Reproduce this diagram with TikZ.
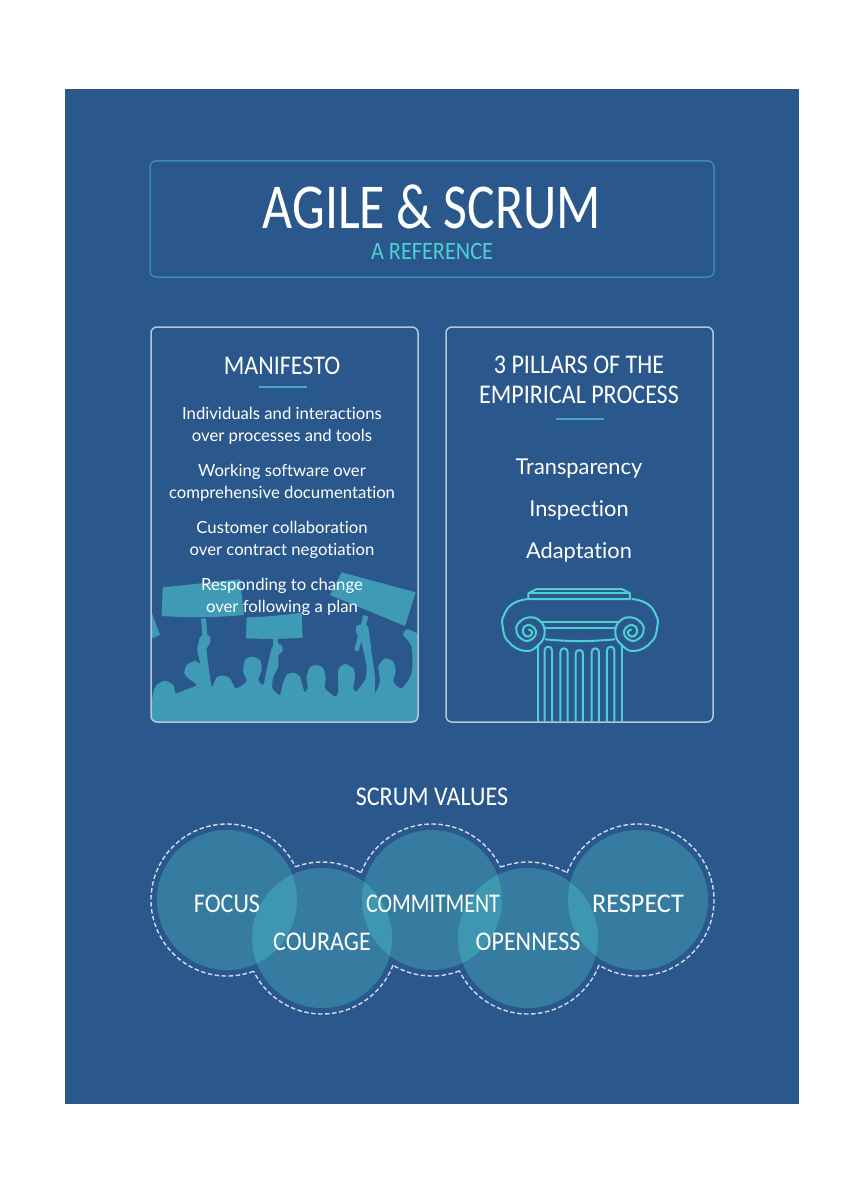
\documentclass[tikz,border=0pt]{standalone}
\usepackage{fontspec}
\setmainfont[Ligatures=NoCommon]{Lato}
\newfontfamily\headfont[FakeStretch=0.89]{Carlito}
\newfontfamily\titlefont[FakeStretch=0.81]{Carlito}
\newfontfamily\widefont[FakeStretch=0.97]{Carlito}
\usetikzlibrary{positioning}
\definecolor{pagebg}{HTML}{2B588C}
\definecolor{teal}{HTML}{3F9BB5}
\definecolor{aqua}{HTML}{4DD0CF}
\definecolor{boxline}{HTML}{B4C6DA}
\definecolor{titleline}{HTML}{3A8FAB}
\definecolor{bubble}{HTML}{5AF0E6}
\newcommand{\volute}{plot[smooth,tension=.8] coordinates {(-155,72) (-200,85) (-228,120) (-232,155) (-215,200) (-165,228) (-125,210) (-106,175) (-118,140) (-152,127) (-185,145) (-190,172) (-175,192) (-152,197) (-132,175) (-145,152) (-167,155) (-170,175) (-155,185) (-143,172) (-155,163)}}
\begin{document}
\begin{tikzpicture}[x=1pt,y=-1pt,
        panel/.style={draw=boxline,line width=1.5pt,rounded corners=6pt},
        head/.style={anchor=base,inner sep=0pt,text=white,font=\headfont\fontsize{27}{27}\selectfont},
        body/.style={anchor=base,inner sep=0pt,text=white,font=\fontsize{16.7}{16.7}\selectfont},
        pillar/.style={anchor=base,inner sep=0pt,text=white,font=\fontsize{21.8}{21.8}\selectfont},
        rulebar/.style={draw=teal!70!aqua,line width=1.2pt},
        aqualine/.style={draw=aqua,line width=2pt},
        bubblefill/.style={fill=bubble,fill opacity=.24},
        dashring/.style={draw=boxline!60!white,line width=1.4pt,dash pattern=on 4.5pt off 2.5pt}]
        \useasboundingbox (0,0) rectangle (863,1193);
        \fill[white] (0,0) rectangle (863,1193);
        \fill[pagebg] (65,89) rectangle (799,1104);

        \draw[panel,draw=titleline] (150,161) rectangle (714,277);
        \node[head,text height=41pt,text depth=0pt,font=\titlefont\fontsize{64}{64}\selectfont] (title) at (432,228) {AGILE \& SCRUM};
        \node[head,text height=17pt,text depth=0pt,text=aqua,font=\headfont\fontsize{25}{25}\selectfont] (subtitle) at (432,259) {A REFERENCE};

        \begin{scope}
        \clip[rounded corners=6pt] (151,327) rectangle (418,722);
        \begin{scope}[shift={(145,560)},x=.3333pt,y=-.3333pt]
        \fill[teal] (15,145) -- (45,225) -- (15,237) -- cycle;
        \fill[teal] (53,82) -- (285,58) -- (297,165) to[bend left=4] (50,168) -- cycle;
        \fill[teal] (168,175) -- (183,175) -- (187,225) -- (172,225) -- cycle;
        \fill[teal] (305,172) to[bend right=3] (470,158) -- (473,233) to[bend left=3] (303,235) -- cycle;
        \fill[teal] (385,238) -- (398,238) -- (398,258) -- (385,258) -- cycle;
        \fill[teal] (590,37) -- (812,97) -- (780,198) -- (555,105) -- cycle;
        \fill[teal] (655,165) -- (670,170) -- (640,275) -- (628,270) -- cycle;
        \fill[teal] (0,430) rectangle (830,495);
        \fill[teal] plot[smooth,tension=.4] coordinates {(10,440) (20,425) (25,395) (35,375) (60,362) (85,375) (92,400) (125,388) (155,375)
                (130,355) (118,340) (125,315) (150,303) (165,310) (157,270) (165,232) (180,222) (195,230) (195,250)
                (185,265) (188,300) (200,380) (215,352) (235,347) (255,355) (272,385) (300,370) (305,360) (295,335)
                (300,300) (320,290) (345,300) (350,330) (340,360) (355,375) (365,330) (380,265) (395,250) (412,258)
                (412,275) (400,285) (400,320) (385,350) (382,385) (405,405) (412,375) (425,345) (445,338) (465,350)
                (478,395) (488,385) (485,350) (495,322) (515,315) (535,325) (542,355) (540,385) (570,410) (580,395)
                (580,330) (600,312) (625,325) (630,350) (625,385) (633,395) (660,360) (665,320) (650,250) (635,220)
                (635,197) (665,195) (672,215) (680,280) (690,350) (690,400) (705,365) (700,320) (720,295) (745,305)
                (752,335) (745,365) (770,385) (800,340) (800,260) (775,225) (785,208) (805,215) (820,235) (830,440)} -- cycle;
        \end{scope}
        \end{scope}

        \draw[panel] (151,327) rectangle (418,722);
        \draw[panel] (446,327) rectangle (713,722);

        \node[head] (manifesto) at (282,374) {MANIFESTO};
        \draw[rulebar] (259,387) -- (307,387);
        \node[body] (m1) at (282,419) {Individuals and interactions};
        \node[body] (m2) at (282,441) {over processes and tools};
        \node[body] (m3) at (282,476) {Working software over};
        \node[body] (m4) at (282,498) {comprehensive documentation};
        \node[body] (m5) at (282,533) {Customer collaboration};
        \node[body] (m6) at (282,555) {over contract negotiation};
        \node[body] (m7) at (282,590) {Responding to change};
        \node[body] (m8) at (282,612) {over following a plan};

        \node[head] (p1) at (579,373) {3 PILLARS OF THE};
        \node[head] (p2) at (579,403) {EMPIRICAL PROCESS};
        \draw[rulebar] (556,419) -- (604,419);
        \node[pillar] (transparency) at (579,474) {Transparency};
        \node[pillar] (inspection) at (579,516) {Inspection};
        \node[pillar] (adaptation) at (579,558) {Adaptation};

        \begin{scope}[shift={(490,575)},x=.3333pt,y=-.3333pt]
        \draw[aqualine,line join=round] (115,72) -- (115,55) -- (140,42) -- (395,42) -- (420,55) -- (420,72) -- cycle;
        \draw[aqualine] (115,55) -- (420,55);
        \foreach \side in {1,-1} {
                \begin{scope}[shift={(270,0)},xscale=\side]
                \draw[aqualine] \volute;
                \end{scope}
        }
        \draw[aqualine] (150,140) -- (390,140);
        \draw[aqualine] (160,158) -- (380,158);
        \draw[aqualine] (165,193) to[bend right=5] (375,193);
        \draw[aqualine] (143,208) -- (143,440);
        \draw[aqualine] (395,208) -- (395,440);
        \foreach \fx/\ftop in {175/215,222/220,268/225,316/220,362/215} {
                \draw[aqualine] (\fx-11,440) -- (\fx-11,\ftop+11) arc[start angle=180,end angle=360,radius=11] -- (\fx+11,440);
        }
        \end{scope}

        \node[head] (values) at (432,805) {SCRUM VALUES};

        \foreach \cx/\cy in {227/900,322/938,432/900,528/938,638/900} {
                \fill[bubblefill] (\cx,\cy) circle (70);
        }
        \foreach \cx/\cy/\from/\to in {227/900/69.5/334.1,322/938/20.94/154.1,322/938/249.5/300.94,432/900/68.8/120.94,432/900/200.94/334.4,528/938/20.94/154.4,528/938/248.8/300.94,638/900/200.94/480.94} {
                \draw[dashring] (\cx,\cy) ++(\from:76) arc[start angle=\from,end angle=\to,radius=76];
        }

        \node[head] (focus) at (227,912) {FOCUS};
        \node[head] (courage) at (322,950) {COURAGE};
        \node[head,font=\titlefont\fontsize{27}{27}\selectfont] (commitment) at (433,912) {COMMITMENT};
        \node[head] (openness) at (528,950) {OPENNESS};
        \node[head,font=\widefont\fontsize{27}{27}\selectfont] (respect) at (638,912) {RESPECT};
\end{tikzpicture}
\end{document}
